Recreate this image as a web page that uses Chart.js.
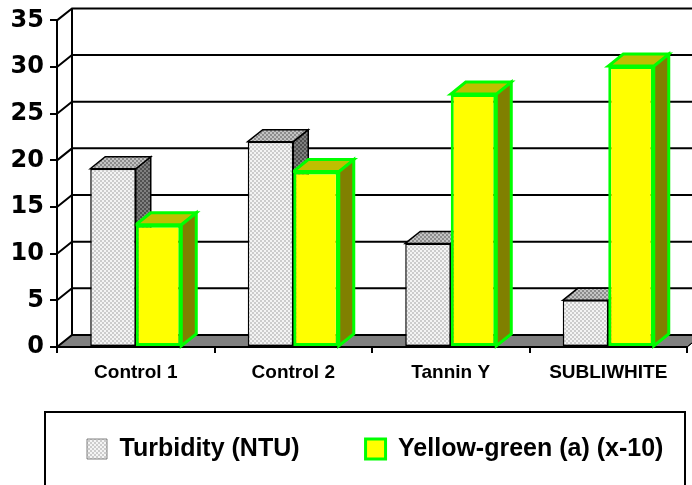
<!DOCTYPE html>
<html><head><meta charset="utf-8">
<script src="https://cdn.jsdelivr.net/npm/chart.js@4.4.0/dist/chart.umd.min.js"></script>
<style>html,body{margin:0;padding:0;background:#fff;}#wrap{width:692px;height:485px;}</style>
</head><body><div id="wrap"><canvas id="c"></canvas></div>
<script>
const categories = ['Control 1', 'Control 2', 'Tannin Y', 'SUBLIWHITE'];
const turbidity = [19.1, 22.0, 11.1, 5.0];
const yellowGreen = [13.1, 18.8, 27.1, 30.1];
const seriesNames = ['Turbidity (NTU)', 'Yellow-green (a) (x-10)'];
const yTicks = [0, 5, 10, 15, 20, 25, 30, 35];

const canvas = document.getElementById('c');
const mainCtx = canvas.getContext('2d');
function checker(base, dot, s) {
  const cv = document.createElement('canvas');
  cv.width = s * 2; cv.height = s * 2;
  const g = cv.getContext('2d');
  g.fillStyle = base; g.fillRect(0, 0, s * 2, s * 2);
  g.fillStyle = dot; g.fillRect(0, 0, s, s); g.fillRect(s, s, s, s);
  return mainCtx.createPattern(cv, 'repeat');
}
const patFront = checker('#f4f4f4', '#cccccc', 2);
const patTop = checker('#c4c4c4', '#8c8c8c', 2);
const patSide = checker('#808080', '#505050', 2);

const DX = 15, DY = -12;

function drawFaces(chart, index) {
  const ds = chart.data.datasets[index];
  const meta = chart.getDatasetMeta(index);
  const ctx = chart.ctx;
  ctx.save();
  ctx.lineJoin = 'miter';
  meta.data.forEach(bar => {
    const half = bar.width / 2;
    const x1 = bar.x - half, x2 = bar.x + half, yt = bar.y, yb = bar.base;
    ctx.lineWidth = ds.faceBorderWidth;
    ctx.strokeStyle = ds.borderColor;
    ctx.beginPath();
    ctx.moveTo(x2, yt); ctx.lineTo(x2 + DX, yt + DY); ctx.lineTo(x2 + DX, yb + DY); ctx.lineTo(x2, yb);
    ctx.closePath();
    ctx.fillStyle = ds.sideColor; ctx.fill(); ctx.stroke();
    ctx.beginPath();
    ctx.moveTo(x1, yt); ctx.lineTo(x1 + DX, yt + DY); ctx.lineTo(x2 + DX, yt + DY); ctx.lineTo(x2, yt);
    ctx.closePath();
    ctx.fillStyle = ds.topColor; ctx.fill(); ctx.stroke();
  });
  ctx.restore();
}

const threeD = {
  id: 'threeD',
  beforeDraw(chart) {
    const {ctx, chartArea: a, scales: {y}} = chart;
    const y0 = y.getPixelForValue(0);
    const yTop = y.getPixelForValue(yTicks[yTicks.length - 1]);
    ctx.save();
    ctx.fillStyle = '#808080';
    ctx.beginPath();
    ctx.moveTo(a.left, y0); ctx.lineTo(a.right, y0);
    ctx.lineTo(a.right + DX, y0 + DY); ctx.lineTo(a.left + DX, y0 + DY);
    ctx.closePath(); ctx.fill();
    ctx.strokeStyle = '#000'; ctx.lineWidth = 1; ctx.stroke();
    ctx.lineWidth = 2;
    yTicks.forEach(v => {
      const py = y.getPixelForValue(v);
      ctx.beginPath();
      ctx.moveTo(a.left, py); ctx.lineTo(a.left + DX, py + DY); ctx.lineTo(a.right + DX + 20, py + DY);
      ctx.stroke();
    });
    ctx.beginPath();
    ctx.moveTo(a.left + DX, yTop + DY); ctx.lineTo(a.left + DX, y0 + DY);
    ctx.stroke();
    ctx.restore();
  },
  beforeDatasetsDraw(chart) {
    const {ctx, chartArea: a, scales: {y}} = chart;
    const y0 = y.getPixelForValue(0);
    ctx.save();
    ctx.strokeStyle = '#000'; ctx.lineWidth = 2;
    ctx.beginPath(); ctx.moveTo(a.left, y.getPixelForValue(yTicks[yTicks.length - 1])); ctx.lineTo(a.left, y0 + 6); ctx.stroke();
    ctx.beginPath(); ctx.moveTo(a.left, y0); ctx.lineTo(a.right, y0); ctx.stroke();
    ctx.lineWidth = 1;
    ctx.beginPath(); ctx.moveTo(a.right, y0); ctx.lineTo(a.right + DX, y0 + DY); ctx.stroke();
    ctx.restore();
    // side/top faces of all but the last series go under the later series' front faces
    for (let i = 0; i < chart.data.datasets.length - 1; i++) drawFaces(chart, i);
  },
  afterDatasetDraw(chart, args) {
    if (args.index === chart.data.datasets.length - 1) drawFaces(chart, args.index);
  },
  afterDraw(chart) {
    const lg = chart.legend;
    if (!lg || !lg.legendHitBoxes || !lg.legendHitBoxes.length) return;
    const hb = lg.legendHitBoxes[0];
    const ctx = chart.ctx;
    ctx.save();
    ctx.strokeStyle = '#000'; ctx.lineWidth = 2;
    ctx.strokeRect(hb.left - 42, hb.top - 24.5, chart.width - 7 - (hb.left - 42), 120);
    ctx.restore();
  }
};

const noLabelClip = s => { s._computeLabelArea = function () { return undefined; }; };

new Chart(canvas, {
  type: 'bar',
  data: {
    labels: categories,
    datasets: [
      {
        label: seriesNames[0], data: turbidity,
        backgroundColor: patFront, borderColor: '#000000', borderWidth: 1.5,
        faceBorderWidth: 1.5, topColor: patTop, sideColor: patSide,
        legendFill: patFront, legendStroke: '#808080', legendLine: 1,
        borderSkipped: false, categoryPercentage: 0.578, barPercentage: 1.0
      },
      {
        label: seriesNames[1], data: yellowGreen,
        backgroundColor: '#FFFF00', borderColor: '#00FF00', borderWidth: 3,
        faceBorderWidth: 3, topColor: '#BFBF00', sideColor: '#808000',
        legendFill: '#FFFF00', legendStroke: '#00FF00', legendLine: 3,
        borderSkipped: false, categoryPercentage: 0.578, barPercentage: 1.0
      }
    ]
  },
  options: {
    responsive: true, maintainAspectRatio: false, animation: false,
    devicePixelRatio: 1,
    layout: { padding: { left: 21, right: -50, top: 19, bottom: 13.5 } },
    plugins: {
      tooltip: { enabled: false },
      legend: {
        position: 'bottom', align: 'start',
        labels: {
          boxWidth: 20, boxHeight: 20, padding: 66, color: '#000',
          font: { family: "'Liberation Sans', Arial, sans-serif", weight: 'bold', size: 25 },
          generateLabels: chart => chart.data.datasets.map((d, i) => ({
            text: d.label, fillStyle: d.legendFill, strokeStyle: d.legendStroke,
            lineWidth: d.legendLine, hidden: false, datasetIndex: i, fontColor: '#000'
          }))
        }
      }
    },
    scales: {
      x: {
        grid: { display: true, drawOnChartArea: false, drawTicks: true, tickLength: 6, color: '#000', lineWidth: 2, offset: true },
        border: { display: true, color: '#000', width: 2 },
        ticks: { color: '#000', padding: 8, maxRotation: 0, autoSkip: false,
          font: { family: "'Liberation Sans', Arial, sans-serif", weight: 'bold', size: 19 } },
        afterFit: s => { s.height = 23.5; },
        afterUpdate: noLabelClip
      },
      y: {
        min: 0, max: 35,
        afterBuildTicks: s => { s.ticks = yTicks.map(v => ({ value: v })); },
        grid: { display: true, drawOnChartArea: false, tickLength: 7, color: '#000', lineWidth: 2 },
        border: { display: true, color: '#000', width: 2 },
        ticks: { color: '#000', padding: 6,
          font: { family: "'DejaVu Sans', sans-serif", weight: 'bold', size: 24 } },
        afterFit: s => { s.width = 36; },
        afterUpdate: noLabelClip
      },
      yR: {
        type: 'linear', position: 'right', display: true,
        grid: { display: false }, border: { display: false }, ticks: { display: false },
        afterFit: s => { s.width = 55; }
      }
    }
  },
  plugins: [threeD]
});
</script>
</body></html>
